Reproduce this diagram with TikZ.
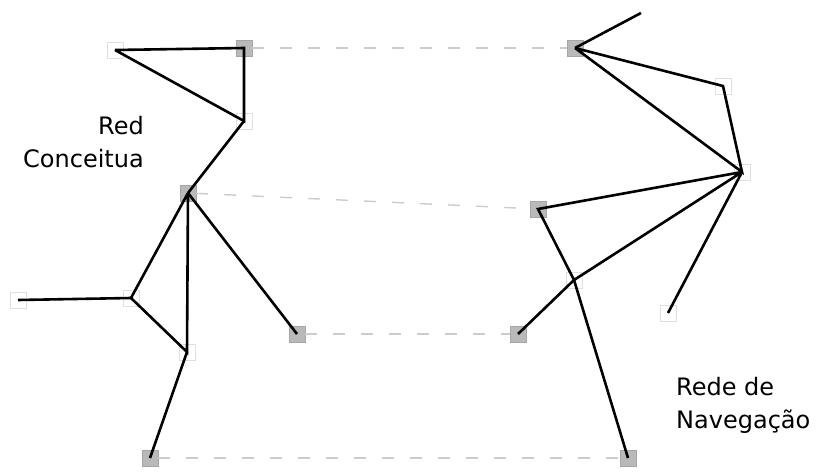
\documentclass[tikz,border=0pt]{standalone}
\usepackage{fontspec}
\setmainfont{DejaVu Sans}
\begin{document}
\begin{tikzpicture}[x=1pt, y=-1pt,
    cinza/.style={draw=gray!70, fill=gray!55, minimum size=16pt, inner sep=0pt},
    branco/.style={draw=gray!25, fill=white, minimum size=16pt, inner sep=0pt},
    liga/.style={black, line width=2.6pt},
    ponte/.style={gray!40, dashed, dash pattern=on 12pt off 16pt, line width=1.4pt},
    rotulo/.style={font=\fontsize{24}{33}\selectfont, inner sep=0pt}]
    \useasboundingbox (0,0) rectangle (821,471);
    % Rede conceitual
    \node[branco] (c1) at (115,50) {};
    \node[cinza]  (c2) at (244,48) {};
    \node[branco] (c3) at (244,121) {};
    \node[cinza]  (c4) at (188,193) {};
    \node[branco] (c5) at (131,298) {};
    \node[branco] (c6) at (18,300) {};
    \node[branco] (c7) at (187,352) {};
    \node[cinza]  (c8) at (297,334) {};
    \node[cinza]  (c9) at (150,458) {};
    % Rede de navegacao
    \coordinate (n0) at (641,13);
    \node[cinza]  (n1) at (575,48) {};
    \node[branco] (n2) at (723,86) {};
    \node[branco] (n3) at (742,172) {};
    \node[cinza]  (n4) at (538,209) {};
    \node[branco] (n5) at (574,280) {};
    \node[cinza]  (n6) at (518,334) {};
    \node[branco] (n7) at (668,313) {};
    \node[cinza]  (n8) at (628,458) {};
    % Pontes tracejadas
    \draw[ponte] (c2) -- (n1);
    \draw[ponte] (c4) -- (n4);
    \draw[ponte] (c8) -- (n6);
    \draw[ponte] (c9) -- (n8);
    % Ligacoes
    \draw[liga] (c1.center) -- (c2.center) -- (c3.center) -- (c1.center);
    \draw[liga] (c3.center) -- (c4.center);
    \draw[liga] (c4.center) -- (c5.center) -- (c7.center) -- (c4.center);
    \draw[liga] (c4.center) -- (c8.center);
    \draw[liga] (c5.center) -- (c6.center);
    \draw[liga] (c7.center) -- (c9.center);
    \draw[liga] (n1.center) -- (n0);
    \draw[liga] (n1.center) -- (n2.center) -- (n3.center) -- (n1.center);
    \draw[liga] (n3.center) -- (n4.center) -- (n5.center) -- (n3.center);
    \draw[liga] (n3.center) -- (n7.center);
    \draw[liga] (n5.center) -- (n6.center);
    \draw[liga] (n5.center) -- (n8.center);
    % Rotulos
    \node[rotulo, align=right, anchor=east] (tc) at (144,142) {Red\\Conceitua};
    \node[rotulo, align=left, anchor=west] (tn) at (676,405) {Rede de\\Navegação};
\end{tikzpicture}
\end{document}
